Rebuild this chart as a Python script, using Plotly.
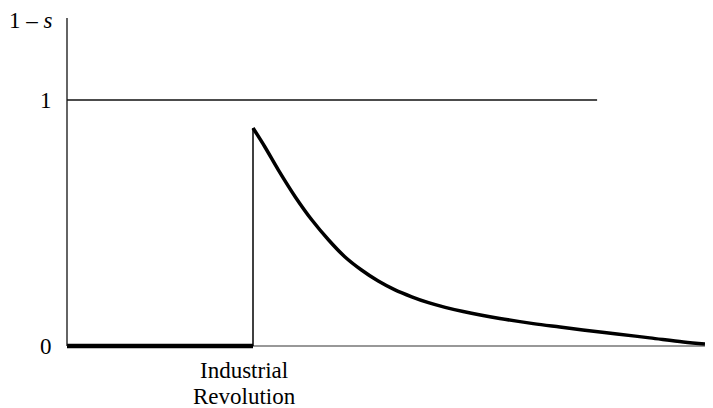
import plotly.graph_objects as go

# ---- data (t in abstract time units, y = 1 - s) ----
t_revolution = 3.0
pre_t = [0.0, 3.0]
pre_y = [0.0, 0.0]
post_t = [3.00, 3.19, 3.41, 3.68, 3.95, 4.22, 4.48, 4.75, 5.02, 5.29, 5.56, 5.83,
          6.10, 6.39, 6.98, 7.52, 7.95, 8.32, 8.87, 9.40, 9.94, 10.29]
post_y = [0.886, 0.810, 0.715, 0.607, 0.512, 0.431, 0.363, 0.309, 0.264, 0.228,
          0.200, 0.176, 0.157, 0.140, 0.112, 0.091, 0.077, 0.065, 0.049, 0.033,
          0.016, 0.008]
ref_t = [0.0, 8.55]
ref_y = [1.0, 1.0]
t_axis_end = 10.29
y_axis_top = 1.333
ytick_vals = [0, 1]
ytick_text = ["0", "1"]

# ---- layout geometry (page body adds an 8px offset) ----
OFF = 8
W, H = 713 - OFF, 408 - OFF
ox, sx = 67 - OFF, 62.0     # pixel of t=0, px per unit
oy, sy = 346 - OFF, 246.0   # pixel of y=0, px per unit
xr = [(0 - ox) / sx, (W - ox) / sx]
yr = [(oy - H) / sy, (oy - 0) / sy]


def tx(px):
    return (px - OFF - ox) / sx


def ty(py):
    return (oy - (py - OFF)) / sy


FONT = "Liberation Serif, Times New Roman, serif"
FS = 23

fig = go.Figure()
fig.add_trace(go.Scatter(x=ref_t, y=ref_y, mode="lines",
                         line=dict(color="#111", width=1.3), hoverinfo="skip"))
fig.add_trace(go.Scatter(x=[t_revolution, t_revolution], y=[0, post_y[0]], mode="lines",
                         line=dict(color="black", width=1.5), hoverinfo="skip"))
fig.add_trace(go.Scatter(x=pre_t, y=pre_y, mode="lines",
                         line=dict(color="black", width=4.5), hoverinfo="skip"))
fig.add_trace(go.Scatter(x=post_t, y=post_y, mode="lines", line_shape="spline",
                         line=dict(color="black", width=3.5, smoothing=1.0),
                         hoverinfo="skip"))

shapes = [
    dict(type="line", xref="x", yref="y", x0=0, x1=0, y0=0, y1=y_axis_top,
         line=dict(color="#111", width=1.3)),
    dict(type="line", xref="x", yref="y", x0=0, x1=t_axis_end, y0=0, y1=0,
         line=dict(color="#333", width=1.2), layer="below"),
]

annots = [
    dict(x=tx(31), y=ty(20), text="1 \u2013 <i>s</i>", showarrow=False,
         font=dict(family=FONT, size=FS, color="black")),
    dict(x=tx(709), y=ty(370), text="<i>t</i>", showarrow=False,
         font=dict(family=FONT, size=FS, color="black")),
    dict(x=tx(244), y=ty(370), text="Industrial", showarrow=False,
         font=dict(family=FONT, size=FS, color="black")),
    dict(x=tx(244), y=ty(396), text="Revolution", showarrow=False,
         font=dict(family=FONT, size=FS, color="black")),
]
for v, txt in zip(ytick_vals, ytick_text):
    annots.append(dict(x=tx(46), y=v, text=txt, showarrow=False,
                       font=dict(family=FONT, size=FS, color="black")))

fig.update_layout(
    width=W, height=H, margin=dict(l=0, r=0, t=0, b=0, pad=0),
    paper_bgcolor="white", plot_bgcolor="white", showlegend=False,
    xaxis=dict(range=xr, visible=False, fixedrange=True),
    yaxis=dict(range=yr, visible=False, fixedrange=True),
    shapes=shapes, annotations=annots,
)

fig.write_html("out.html")
